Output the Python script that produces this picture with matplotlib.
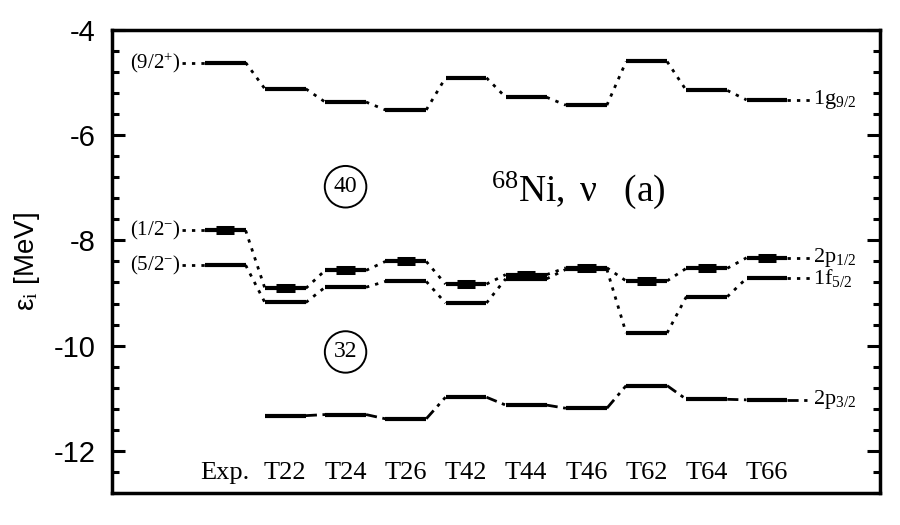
import numpy as np
import matplotlib
matplotlib.use("Agg")
import matplotlib.pyplot as plt
from matplotlib.ticker import MultipleLocator

plt.rcParams['mathtext.fontset'] = 'custom'
plt.rcParams['mathtext.rm'] = 'Liberation Serif'
plt.rcParams['mathtext.it'] = 'Liberation Serif:italic'
plt.rcParams['axes.unicode_minus'] = False
plt.rcParams['font.family'] = ['Liberation Sans', 'DejaVu Sans']

# forces along x, single-particle energies (MeV)
forces = ['Exp.', 'T22', 'T24', 'T26', 'T42', 'T44', 'T46', 'T62', 'T64', 'T66']
g92 = [-4.62, -5.12, -5.37, -5.52, -4.91, -5.28, -5.43, -4.60, -5.15, -5.33]
p12 = [-7.81, -8.91, -8.57, -8.40, -8.83, -8.65, -8.52, -8.77, -8.53, -8.33]
f52 = [-8.47, -9.18, -8.89, -8.78, -9.19, -8.73, -8.55, -9.76, -9.07, -8.72]
p32 = [np.nan, -11.33, -11.31, -11.39, -10.98, -11.13, -11.19, -10.76, -11.02, -11.03]

exp_labels = {'g92': r'$\mathrm{(9/2^{+})}$', 'p12': r'$\mathrm{(1/2^{-})}$', 'f52': r'$\mathrm{(5/2^{-})}$'}
orb_labels = {'g92': r'$\mathrm{1g_{9/2}}$', 'p12': r'$\mathrm{2p_{1/2}}$',
              'f52': r'$\mathrm{1f_{5/2}}$', 'p32': r'$\mathrm{2p_{3/2}}$'}

hw = 0.34
x = np.arange(len(forces))

fig = plt.figure(figsize=(9, 5.25), dpi=100)
ax = fig.add_axes([0.1244, 0.061, 0.8536, 0.882])


def draw_levels(vals, conn_style, thick=False, key=None):
    vals = np.array(vals, dtype=float)
    for i, v in enumerate(vals):
        if np.isnan(v):
            continue
        ax.plot([x[i] - hw, x[i] + hw], [v, v], color='k', lw=3, solid_capstyle='butt')
        if thick:
            ax.plot([x[i] - hw * 0.45, x[i] + hw * 0.45], [v, v], color='k', lw=6.5,
                    solid_capstyle='butt')
    for i in range(len(vals) - 1):
        if np.isnan(vals[i]) or np.isnan(vals[i + 1]):
            continue
        ax.plot([x[i] + hw, x[i + 1] - hw], [vals[i], vals[i + 1]], color='k', lw=2,
                linestyle=conn_style)
    # labels at the ends
    if key in exp_labels and not np.isnan(vals[0]):
        ax.plot([-0.72, -hw], [vals[0], vals[0]], color='k', lw=2, linestyle=conn_style)
        ax.text(-0.74, vals[0], exp_labels[key], ha='right', va='center', fontsize=15)
    ax.plot([x[-1] + hw, 9.72], [vals[-1], vals[-1]], color='k', lw=2, linestyle=conn_style)
    ax.text(9.76, vals[-1], orb_labels[key], ha='left', va='center', fontsize=16)


dots = (0, (1.2, 2.2))
dashdot = (0, (4, 2, 1.2, 2))
draw_levels(g92, dots, key='g92')
draw_levels(p12, dots, thick=True, key='p12')
draw_levels(f52, dots, key='f52')
draw_levels(p32, dashdot, key='p32')

# category names inside the frame
for i, name in enumerate(forces):
    ax.text(x[i], -12.42, name, ha='center', va='center', fontsize=19, family='Liberation Serif')

# shell gaps
for num, yv in [('40', -6.98), ('32', -10.12)]:
    ax.text(2.0, yv, num, ha='center', va='center', fontsize=17, family='Liberation Serif',
            bbox=dict(boxstyle='circle,pad=0.38', fc='none', ec='k', lw=1.4))

ax.text(5.87, -7.05, r'$\mathrm{^{68}Ni,\ \nu\ \ \ (a)}$', ha='center', va='center', fontsize=27)

ax.set_xlim(-1.88, 10.88)
ax.set_ylim(-12.8, -4)
ax.yaxis.set_major_locator(MultipleLocator(2))
ax.yaxis.set_minor_locator(MultipleLocator(0.4))
ax.set_xticks([])
ax.tick_params(axis='y', which='both', direction='in', left=True, right=True, width=2.2)
ax.tick_params(axis='y', which='major', length=9.5, labelsize=21, pad=12)
ax.tick_params(axis='y', which='minor', length=5)
for s in ax.spines.values():
    s.set_linewidth(2.5)

ax.set_ylabel('ε$_\\mathrm{i}$ [MeV]', fontsize=20, labelpad=8)

fig.savefig('out.png', dpi=100)
